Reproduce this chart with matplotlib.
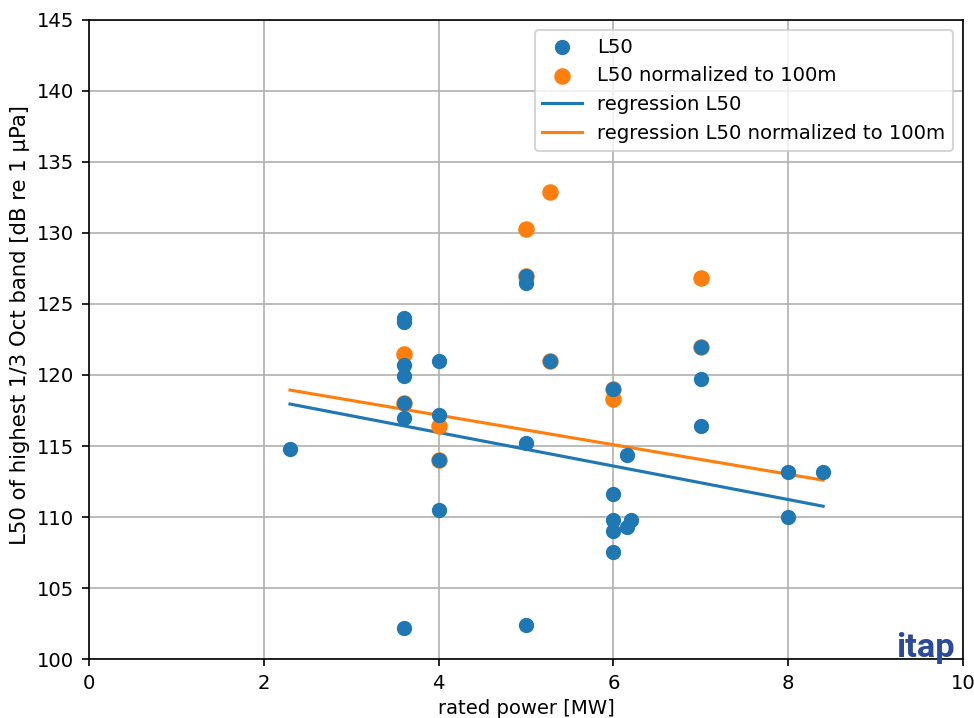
import numpy as np
import matplotlib
matplotlib.use("Agg")
import matplotlib.pyplot as plt

# Rated power [MW] and L50 of the highest 1/3 octave band [dB re 1 µPa]
power_l50 = [2.3, 3.6, 3.6, 3.6, 3.6, 3.6, 3.6, 3.6,
             4.0, 4.0, 4.0, 4.0,
             5.0, 5.0, 5.0, 5.0, 5.28,
             6.0, 6.0, 6.0, 6.0, 6.0, 6.15, 6.15, 6.2,
             7.0, 7.0, 7.0, 8.0, 8.0, 8.4]
l50 = [114.8, 124.0, 123.7, 120.7, 119.9, 118.0, 117.0, 102.2,
       121.0, 117.2, 114.0, 110.5,
       127.0, 126.5, 115.2, 102.4, 121.0,
       119.0, 111.6, 109.8, 109.0, 107.5, 114.4, 109.3, 109.8,
       122.0, 119.7, 116.4, 113.2, 110.0, 113.2]

# Values normalized to 100 m distance
power_norm = [3.6, 3.6, 4.0, 4.0, 5.0, 5.0, 5.28, 5.28, 6.0, 6.0, 7.0, 7.0]
l50_norm = [121.5, 118.0, 116.4, 114.0, 130.3, 127.0, 132.9, 121.0,
            119.0, 118.3, 126.8, 122.0]

# Linear regression results (slope, intercept) and fitted range
reg_l50 = (-1.18, 120.67)
reg_norm = (-1.04, 121.33)
reg_range = [2.3, 8.4]

blue = "#1f77b4"
orange = "#ff7f0e"

plt.rcParams["font.size"] = 9.4

fig = plt.figure(figsize=(974 / 150, 718 / 150), dpi=150)
ax = fig.add_axes([89 / 974, 59 / 718, (963 - 89) / 974, (659 - 20) / 718])

xr = np.array(reg_range)
ln1, = ax.plot(xr, reg_l50[0] * xr + reg_l50[1], color=blue, lw=1.5, zorder=2)
ln2, = ax.plot(xr, reg_norm[0] * xr + reg_norm[1], color=orange, lw=1.5, zorder=2)
sc2 = ax.scatter(power_norm, l50_norm, color=orange, s=40, linewidths=1.6, zorder=3)
sc1 = ax.scatter(power_l50, l50, color=blue, s=40, zorder=4)

ax.set_xlim(0, 10)
ax.set_ylim(100, 145)
ax.set_xticks(np.arange(0, 11, 2))
ax.set_yticks(np.arange(100, 146, 5))
ax.grid(True, color="#b0b0b0", lw=0.8)
ax.set_axisbelow(True)
ax.set_xlabel("rated power [MW]", labelpad=3)
ax.set_ylabel("L50 of highest 1/3 Oct band [dB re 1 µPa]", fontsize=10.2)
ax.yaxis.set_label_coords(-0.067, 0.523)

ax.legend([sc1, sc2, ln1, ln2],
          ["L50", "L50 normalized to 100m", "regression L50",
           "regression L50 normalized to 100m"],
          loc="upper right")

fig.text(925 / 974, 1 - 648 / 718, "itap", color="#2b4a9b",
         fontsize=16.5, fontweight="bold", family="Roboto",
         ha="center", va="center", zorder=10)

fig.savefig("out.png", dpi=150)
